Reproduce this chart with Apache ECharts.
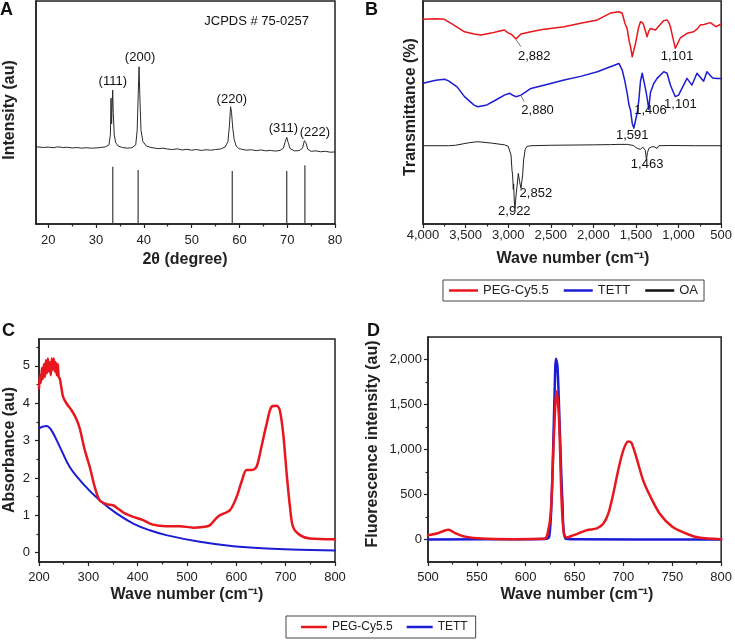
<!DOCTYPE html>
<html><head><meta charset="utf-8">
<script src="https://cdn.jsdelivr.net/npm/echarts@6/dist/echarts.min.js"></script>
<style>html,body{margin:0;padding:0;background:#fff}#c{width:735px;height:641px}</style>
</head><body><div id="c"></div>
<script>
// ---------- Panel A: XRD ----------
const xrdAngle = [17.5,19,20,21,22,23,24,25,26,27,28,29,30,31,32,32.7,33.0,33.13,33.25,33.35,33.48,33.6,33.8,34.1,34.6,35.5,36.5,37.5,38.3,38.6,38.85,39.0,39.15,39.4,39.8,40.5,41.5,43,44,45,46,47,48,49,50,51,52,53,54,55,56,57,57.6,57.9,58.15,58.35,58.6,58.9,59.3,59.9,60.5,61.5,62.5,63.5,64.5,65.5,66.5,67.5,68.5,69.2,69.6,69.9,70.2,70.6,71.5,72.5,73.2,73.6,73.9,74.3,75,76,77,78,79,80];
const xrdIntensity = [34.6,34.3,34.5,34.2,34.6,34.3,34.4,34.1,34.3,34.0,34.2,34.0,34.1,34.3,34.6,35.5,40,56.4,45,52,60.1,50,40,36.5,35,34.3,34.0,34.2,35.5,42,60,70.5,58,42,37,35,34.3,33.8,34.0,33.6,33.4,33.7,33.2,33.5,33.1,33.4,33.0,33.3,33.1,33.4,33.6,34.5,37,44,52.6,50,43,38,35,33.8,33.5,33.1,33.3,32.9,33.2,32.8,33.0,32.7,33.0,34,37,38.9,36.5,33.8,32.8,32.9,34,37.4,36.5,33.5,32.6,32.8,32.4,32.6,32.2,32.3];
const refAngle = [33.5,38.8,58.5,69.9,73.7];
const refHeight = [25.7,24.2,23.8,23.8,26.3];
const aLabelX = [33.5,39.2,58.4,69.2,75.8,63.6];
const aLabelY = [63.8,74.7,55.9,42.9,40.9,91];
const aLabelText = ['(111)','(200)','(220)','(311)','(222)','JCPDS # 75-0257'];
const aTicks = [20,30,40,50,60,70,80];
const aMinorTicks = [25,35,45,55,65,75];

// ---------- Panel B: FTIR ----------
const bRedWn = [4000,3850,3750,3650,3513,3400,3318,3200,3123,3045,3006,2960,2909,2850,2733,2600,2343,2150,1953,1800,1700,1661,1630,1603,1580,1564,1544,1525,1505,1470,1447,1420,1408,1385,1369,1350,1330,1300,1271,1230,1174,1135,1110,1096,1070,1038,1010,979,900,823,780,745,700,628,560,500];
const bRedT = [91.8,92,91.8,89.5,86.2,85.2,84.8,85.6,86.3,87,85.8,85,83,85.2,86.2,87.2,88.5,90,91.5,94.6,95.2,94.5,90,87.5,82,79.5,75,78,81,88,90.7,90.2,89,86,84,86.5,87.7,87.3,87,88.8,91.2,91.5,90,88.5,84,78.8,81,83.5,85.5,86.2,87.5,89.2,89.5,90.3,88.5,89.7];
const bBlueWn = [4000,3850,3747,3700,3600,3513,3400,3357,3250,3150,3045,2980,2940,2909,2850,2733,2500,2343,2150,1953,1800,1700,1661,1630,1603,1580,1564,1544,1525,1505,1485,1466,1447,1427,1408,1385,1369,1350,1330,1291,1252,1174,1135,1096,1060,1038,1000,979,901,843,784,706,667,600,550,500];
const bBlueT = [63.1,64.5,64.9,64.2,61.5,57.1,53.3,52.6,53.4,55.5,57.8,58.6,57.6,57.1,57.8,60.8,63,64.6,66.2,68.3,70.5,72,69,64,58.6,53,51.1,45.2,43,42.2,50,55.6,64,67.6,67,60,56.5,51.5,59,63,65.3,68.3,67.6,62.3,59,57.1,57.8,58.6,65.3,62.3,67.6,64,68.3,65.5,65.3,65.3];
const bBlackWn = [4000,3700,3620,3600,3450,3357,3200,3045,3000,2987,2967,2955,2948,2940,2936,2928,2920,2910,2897,2881,2866,2850,2842,2830,2819,2800,2780,2733,2500,2000,1800,1700,1600,1530,1486,1465,1447,1420,1408,1390,1377,1365,1349,1320,1291,1270,1252,1232,1100,800,500];
const bBlackT = [35.1,35.1,35.3,35.9,36.5,36.9,36.3,35.5,34.9,34.7,31,24,22,15.5,18,10,7,12,16.7,22.7,19,16,15.5,22,28.7,33.5,34.8,35.1,35.3,35.5,35.6,35.7,35.7,35.2,33.9,33.3,33.5,34.5,34.7,33,28.7,32,33.9,34.5,34.7,34,33.9,35.1,35.2,35.1,35.1];
const bLabelWn = [2694,1018,2655,1330,979,1544,1369,2675,2928];
const bLabelY = [75,75,51.1,51.1,53.4,39.9,26.5,13.8,5.5];
const bLabelText = ['2,882','1,101','2,880','1,406','1,101','1,591','1,463','2,852','2,922'];
const bArrowFrom = [[2850,79.5],[2811,54.9]];
const bArrowTo = [[2905,82.5],[2855,57.8]];

// ---------- Panel C: absorbance ----------
const cRedWn = [200,202,204,206,208,210,212,214,216,218,220,222,224,226,228,230,232,234,236,238,240,242,245,248.7,255.5,265.6,275,282.5,292.7,302.8,313,323,336.6,350,360,374,390.8,411,431,458,485.5,512.5,532.8,546,563,587,600.5,610.6,620.8,631,641,651,661,671.5,681.6,688,695,702,708.7,715,729,749,800];
const cRedA = [4.4,4.75,4.55,4.95,4.65,5.05,4.7,5.15,4.8,5.2,4.85,5.1,4.75,5.2,4.9,5.2,4.85,5.1,4.75,5.05,4.7,4.67,4.45,4.18,4.0,3.82,3.6,3.33,2.75,2.3,1.76,1.4,1.3,1.27,1.18,1.05,0.96,0.87,0.75,0.71,0.71,0.67,0.69,0.73,0.97,1.14,1.49,1.9,2.21,2.21,2.3,2.84,3.42,3.91,3.93,3.82,3.19,2.12,1.23,0.69,0.47,0.38,0.36];
const cBlueWn = [200,215,225,242,262,289,323,357,391,424.6,458,526,594,661,729,800];
const cBlueA = [3.33,3.39,3.28,2.84,2.3,1.85,1.4,1.05,0.78,0.6,0.47,0.29,0.17,0.11,0.08,0.06];
const cTicks = [0,1,2,3,4,5];
const cMinorTicks = [0.5,1.5,2.5,3.5,4.5,5.5];

// ---------- Panel D: fluorescence ----------
const dRedWn = [500,509,516,521,528,538,555,588,619,622,625.6,629,631.6,634,636.7,639,642,649,662.7,672.8,679.5,684.6,689.7,694.7,700,704.9,708,713,720,726.8,737,750,764,777,800];
const dRedF = [48,67,95,108,70,32,10,4,7,48,290,1182,1647,1368,439,67,22,48,104,123,178,290,513,773,996,1089,1078,922,662,494,290,141,67,22,4];
const dBlueWn = [500,600,620,624,626.5,628.5,630.2,630.9,632.5,635,637.5,640.7,650,800];
const dBlueF = [0,4,5,30,439,1182,1900,2007,1925,1182,439,11,3,0];
const dTicks = [0,500,1000,1500,2000];
const dMinorTicks = [250,750,1250,1750];

// ---------- build ----------
const zip = (a, b) => a.map((v, i) => [v, b[i]]);
const zip3 = (a, b, c) => a.map((v, i) => [v, b[i], c[i]]);
const FONT = '"Liberation Sans", Arial, Helvetica, sans-serif';
const INK = '#222';
const RED = '#e8161d';
const BLUE = '#1c1cd4';
const fmt = v => Number(v).toLocaleString('en-US');

const axisLine = {show: true, onZero: false, lineStyle: {color: INK, width: 1.5}};
const tickStyle = {color: INK, width: 1.2};
const lab = (margin, extra) => Object.assign({color: INK, fontSize: 13, fontFamily: FONT, margin: margin}, extra || {});

const grids = [
  {left: 36, top: 1, width: 299, height: 223},
  {left: 423, top: 1, width: 300, height: 223},
  {left: 39, top: 339, width: 296, height: 223},
  {left: 428, top: 337, width: 296, height: 225}
].map(g => Object.assign({show: true, borderColor: INK, borderWidth: 1.5, containLabel: false}, g));

const xAxes = [
  {type: 'value', gridIndex: 0, position: 'bottom', min: 17.43, max: 80, axisLine: axisLine,
   axisTick: {show: true, length: 4, customValues: aTicks, lineStyle: tickStyle},
   axisLabel: lab(10, {customValues: aTicks}), splitLine: {show: false}},
  {type: 'value', gridIndex: 0, position: 'bottom', min: 17.43, max: 80, axisLine: {show: false, onZero: false},
   axisTick: {show: true, length: 2.5, customValues: aMinorTicks, lineStyle: tickStyle},
   axisLabel: {show: false}, splitLine: {show: false}},
  {type: 'value', gridIndex: 1, position: 'bottom', min: 500, max: 4000, interval: 500, inverse: true, axisLine: axisLine,
   axisTick: {show: true, length: 4, lineStyle: tickStyle},
   minorTick: {show: true, splitNumber: 2, length: 2.5, lineStyle: tickStyle},
   axisLabel: lab(5, {formatter: fmt}), splitLine: {show: false}},
  {type: 'value', gridIndex: 2, position: 'bottom', min: 200, max: 800, interval: 100, axisLine: axisLine,
   axisTick: {show: true, length: 4, lineStyle: tickStyle},
   minorTick: {show: true, splitNumber: 2, length: 2.5, lineStyle: tickStyle},
   axisLabel: lab(9), splitLine: {show: false}},
  {type: 'value', gridIndex: 3, position: 'bottom', min: 500, max: 800, interval: 50, axisLine: axisLine,
   axisTick: {show: true, length: 4, lineStyle: tickStyle},
   minorTick: {show: true, splitNumber: 2, length: 2.5, lineStyle: tickStyle},
   axisLabel: lab(9), splitLine: {show: false}}
];

const yAxes = [
  {type: 'value', gridIndex: 0, position: 'left', min: 0, max: 100, axisLine: axisLine, axisTick: {show: false}, axisLabel: {show: false}, splitLine: {show: false}},
  {type: 'value', gridIndex: 1, position: 'left', min: 0, max: 100, axisLine: axisLine, axisTick: {show: false}, axisLabel: {show: false}, splitLine: {show: false}},
  {type: 'value', gridIndex: 2, position: 'left', min: -0.25, max: 5.72, axisLine: axisLine,
   axisTick: {show: true, length: 4, customValues: cTicks, lineStyle: tickStyle},
   axisLabel: lab(9, {customValues: cTicks}), splitLine: {show: false}},
  {type: 'value', gridIndex: 2, position: 'left', min: -0.25, max: 5.72, axisLine: {show: false, onZero: false},
   axisTick: {show: true, length: 2.5, customValues: cMinorTicks, lineStyle: tickStyle},
   axisLabel: {show: false}, splitLine: {show: false}},
  {type: 'value', gridIndex: 3, position: 'left', min: -250, max: 2250, axisLine: axisLine,
   axisTick: {show: true, length: 4, customValues: dTicks, lineStyle: tickStyle},
   axisLabel: lab(6, {customValues: dTicks, formatter: fmt}), splitLine: {show: false}},
  {type: 'value', gridIndex: 3, position: 'left', min: -250, max: 2250, axisLine: {show: false, onZero: false},
   axisTick: {show: true, length: 2.5, customValues: dMinorTicks, lineStyle: tickStyle},
   axisLabel: {show: false}, splitLine: {show: false}}
];

const lineSeries = (name, xi, yi, data, color, width, z, smooth) => ({
  name: name, type: 'line', xAxisIndex: xi, yAxisIndex: yi, data: data,
  showSymbol: false, symbol: 'none', smooth: smooth || false, silent: true, z: z || 3,
  lineStyle: {color: color, width: width, cap: 'round', join: 'round'}, itemStyle: {color: color}
});
const labelSeries = (xi, yi, data, size) => ({
  type: 'scatter', xAxisIndex: xi, yAxisIndex: yi, data: data, symbolSize: 1, silent: true, z: 10,
  itemStyle: {opacity: 1, color: 'rgba(0,0,0,0)'},
  label: {show: true, position: 'inside', formatter: p => p.value[2], color: '#111',
    textBorderWidth: 0, fontSize: size, fontFamily: FONT}
});

const series = [
  lineSeries('XRD', 0, 0, zip(xrdAngle, xrdIntensity), '#2b2b2b', 1),
  {type: 'bar', xAxisIndex: 0, yAxisIndex: 0, data: zip(refAngle, refHeight), barWidth: 1.2, silent: true,
   itemStyle: {color: '#3a3a3a'}},
  labelSeries(0, 0, zip3(aLabelX, aLabelY, aLabelText), 13),

  Object.assign(lineSeries('PEG-Cy5.5', 2, 1, zip(bRedWn, bRedT), RED, 1.5), {
    markLine: {silent: true, symbol: ['none', 'arrow'], symbolSize: [0, 6], label: {show: false},
      lineStyle: {color: '#555', width: 0.8, type: 'solid'},
      data: bArrowFrom.map((f, i) => [{coord: f}, {coord: bArrowTo[i]}])}
  }),
  lineSeries('TETT', 2, 1, zip(bBlueWn, bBlueT), BLUE, 1.5),
  lineSeries('OA', 2, 1, zip(bBlackWn, bBlackT), '#222', 1),
  labelSeries(2, 1, zip3(bLabelWn, bLabelY, bLabelText), 13),

  lineSeries('PEG-Cy5.5', 3, 2, zip(cRedWn, cRedA), RED, 2.5, 4, 0.3),
  lineSeries('TETT', 3, 2, zip(cBlueWn, cBlueA), BLUE, 2, 3, 0.4),

  lineSeries('PEG-Cy5.5', 4, 4, zip(dRedWn, dRedF), RED, 2.5, 4, 0.3),
  lineSeries('TETT', 4, 4, zip(dBlueWn, dBlueF), BLUE, 2.5, 3, 0.3)
];

const legendBase = {orient: 'horizontal', icon: 'rect', itemHeight: 2.5, borderColor: '#444', borderWidth: 1,
  borderRadius: 0, selectedMode: false, backgroundColor: '#fff'};
const legends = [
  Object.assign({}, legendBase, {left: 443, top: 280, itemWidth: 29, itemGap: 15, padding: [4, 6, 4, 6],
    data: [{name: 'PEG-Cy5.5', itemStyle: {color: RED}}, {name: 'TETT', itemStyle: {color: BLUE}}, {name: 'OA', itemStyle: {color: '#111'}}],
    textStyle: {fontSize: 13, color: INK, fontFamily: FONT}}),
  Object.assign({}, legendBase, {left: 286, top: 616, itemWidth: 26, itemGap: 14, padding: [5, 8, 5, 15],
    data: [{name: 'PEG-Cy5.5', itemStyle: {color: RED}}, {name: 'TETT', itemStyle: {color: BLUE}}],
    textStyle: {fontSize: 12, color: INK, fontFamily: FONT}})
];

const title = (text, x, y, rot) => ({
  type: 'text', x: x, y: y, rotation: rot ? Math.PI / 2 : 0, silent: true, z: 20,
  style: {text: text, align: 'center', verticalAlign: 'middle', fill: INK,
    font: 'bold 16px ' + FONT}
});
const letter = (text, x, y) => ({
  type: 'text', x: x, y: y, silent: true, z: 20,
  style: {text: text, align: 'left', verticalAlign: 'top', fill: '#111', font: 'bold 18px ' + FONT}
});

const graphic = [
  letter('A', 0, 1), letter('B', 365, 1), letter('C', 2, 322), letter('D', 367, 322),
  title('Intensity (au)', 10, 110, true),
  title('Transmittance (%)', 411, 107, true),
  title('Absorbance (au)', 10, 450, true),
  title('Fluorescence intensity (au)', 373, 444, true),
  title('2θ (degree)', 185, 260),
  title('Wave number (cm⁻¹)', 573, 259),
  title('Wave number (cm⁻¹)', 187, 595),
  title('Wave number (cm⁻¹)', 577, 595)
];

const chart = echarts.init(document.getElementById('c'), null, {renderer: 'canvas'});
chart.setOption({
  animation: false,
  backgroundColor: '#fff',
  textStyle: {fontFamily: FONT},
  grid: grids, xAxis: xAxes, yAxis: yAxes, legend: legends, series: series, graphic: graphic
});
</script></body></html>
